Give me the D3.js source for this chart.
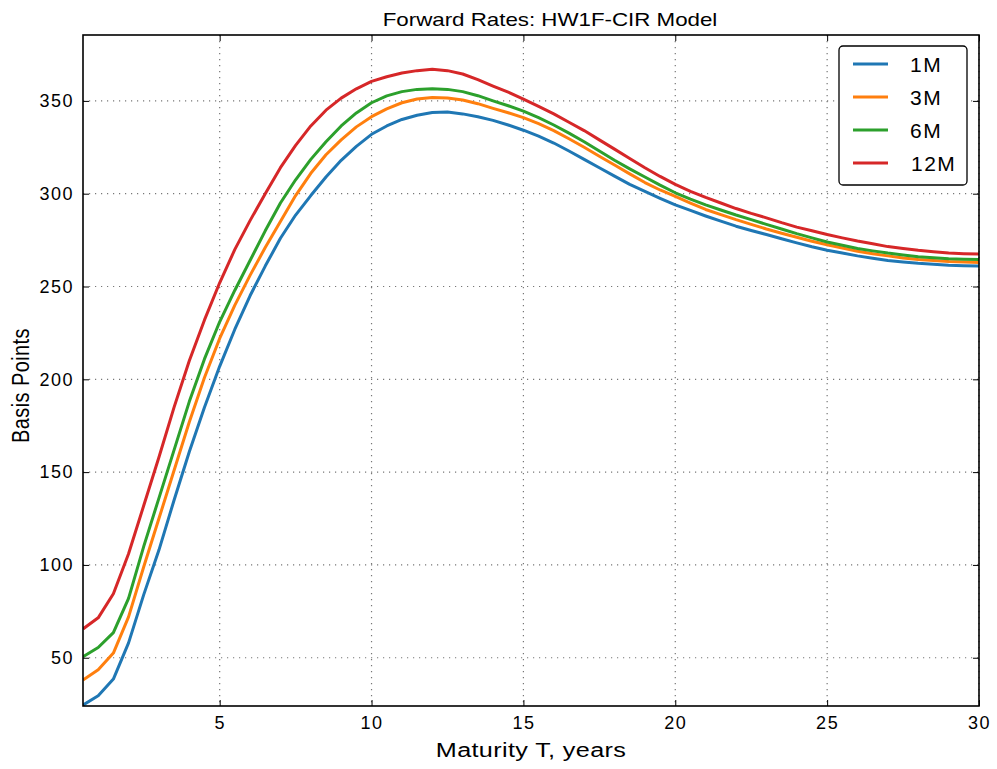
<!DOCTYPE html>
<html><head><meta charset="utf-8">
<script src="https://cdn.jsdelivr.net/npm/d3@7"></script>
<style>
body{margin:0;background:#fff;}
text{font-family:"Liberation Sans",Arial,sans-serif;fill:#000;}
</style></head>
<body><svg id="chart" width="997" height="769"></svg>
<script>
const maturities = [0.5,1,1.5,2,2.5,3,3.5,4,4.5,5,5.5,6,6.5,7,7.5,8,8.5,9,9.5,10,10.5,11,11.5,12,12.5,13,13.5,14,14.5,15,15.5,16,16.5,17,17.5,18,18.5,19,19.5,20,20.5,21,21.5,22,22.5,23,23.5,24,24.5,25,25.5,26,26.5,27,27.5,28,28.5,29,29.5,30];
const series1M  = [24.5,29.5,38.5,58,84,108,135,161,185,207,227,245,261,276,288.5,299,309,318,325.5,332,336.5,340,342.3,343.8,344,343,341.5,339.5,337,334.2,331,327.3,323,318.5,314,309.5,305,301.2,297.5,294,291,288,285.2,282.5,280.2,278,275.7,273.5,271.4,269.5,268,266.5,265.2,264,263.2,262.5,262,261.5,261.2,261];
const series3M  = [38,43.5,52.5,72,99,125,151,177,201,222,240,256,271,285,299,311,321,329,336,341.5,345.7,349,351,351.8,351.6,350.5,348.5,346,343.6,341,337.7,334,329.6,325,320.2,315.5,310.7,306,302,298.5,294.9,291.5,288.7,286,283.5,281,278.7,276.5,274.4,272.5,270.7,269,267.7,266.5,265.4,264.5,264,263.5,263.2,263];
const series6M  = [50.5,55.5,63.5,82,110,136,162,188,211,231,248,264,280,295,307.5,318.5,328,336.5,343.5,349,352.7,355,356.2,356.5,356.2,355,352.8,350,347.4,344.5,341,337,332.6,328,323,318,313.4,309,304.6,300.5,297.1,294,291.2,288.5,286,283.5,281,278.5,276.2,274,272.2,270.5,269.2,268,267,266,265.5,265,264.7,264.5];
const series12M = [65.5,71.5,84.5,106,132,158,185,210,232,252,270,285.5,300,314,326,336.5,345,351.5,356.5,360.5,363,365,366.3,367,366.3,364.5,361.5,358,354.7,351,347,343,338.5,334,329,324,319,314,309.3,305,301.3,298,295,292,289.4,287,284.4,282,280,278,276.2,274.5,273,271.5,270.5,269.5,268.7,268,267.7,267.5];
const seriesNames = ["1M","3M","6M","12M"];
const seriesColors = ["#1f77b4","#ff7f0e","#2ca02c","#d62728"];
const xTicks = [5,10,15,20,25,30];
const yTicks = [50,100,150,200,250,300,350];
const titleText = "Forward Rates: HW1F-CIR Model";
const xLabel = "Maturity T, years";
const yLabel = "Basis Points";

const allSeries = [series1M, series3M, series6M, series12M];
const svg = d3.select("#chart");
const L = 83, R = 979, T = 35, B = 706;
const x = d3.scaleLinear().domain([0.5, 30]).range([L, R]);
const y = d3.scaleLinear().domain([24, 385.5]).range([B, T]);

// grid
const grid = svg.append("g").attr("stroke","#777").attr("stroke-width",1.2).attr("stroke-dasharray","1.2,4.8");
xTicks.forEach(t => grid.append("line").attr("x1",x(t)).attr("x2",x(t)).attr("y1",T).attr("y2",B));
yTicks.forEach(t => grid.append("line").attr("x1",L).attr("x2",R).attr("y1",y(t)).attr("y2",y(t)));

svg.append("clipPath").attr("id","clip").append("rect").attr("x",L).attr("y",T).attr("width",R-L).attr("height",B-T);

const line = d3.line().x((d,i)=>x(maturities[i])).y(d=>y(d));
const lines = svg.append("g").attr("clip-path","url(#clip)");
allSeries.forEach((s,k)=>{
  lines.append("path").datum(s).attr("d",line).attr("fill","none")
    .attr("stroke",seriesColors[k]).attr("stroke-width",3).attr("stroke-linejoin","round");
});

// axes (ticks inward)
const fontSize = "18px";
const xAxis = svg.append("g").attr("transform",`translate(0,${B})`)
  .call(d3.axisBottom(x).tickValues(xTicks).tickSize(-6).tickPadding(10).tickFormat(d3.format("d")));
const yAxis = svg.append("g").attr("transform",`translate(${L},0)`)
  .call(d3.axisLeft(y).tickValues(yTicks).tickSize(-6).tickPadding(9).tickFormat(d3.format("d")));
svg.append("g").attr("transform",`translate(0,${T})`)
  .call(d3.axisTop(x).tickValues(xTicks).tickSize(-6).tickFormat(""));
svg.append("g").attr("transform",`translate(${R},0)`)
  .call(d3.axisRight(y).tickValues(yTicks).tickSize(-6).tickFormat(""));
svg.selectAll(".domain").remove();
svg.selectAll(".tick line").attr("stroke","#000").attr("stroke-width",1);
[xAxis,yAxis].forEach(a=>a.selectAll("text").attr("font-size",fontSize).attr("letter-spacing","1.5px")
  .attr("font-family","Liberation Sans, Arial, sans-serif").attr("fill","#000"));

// frame
svg.append("rect").attr("x",L).attr("y",T).attr("width",R-L).attr("height",B-T)
  .attr("fill","none").attr("stroke","#000").attr("stroke-width",1.6);

// title & labels (horizontally widened like the reference rendering)
svg.append("text").attr("transform","translate(550,26) scale(1.2,1)").attr("text-anchor","middle")
  .attr("font-size","18.6px").text(titleText);
svg.append("text").attr("transform",`translate(${(L+R)/2},757) scale(1.2,1)`).attr("text-anchor","middle")
  .attr("font-size","21px").attr("letter-spacing","0.3px").text(xLabel);
svg.append("text").attr("transform",`translate(29,${(T+B)/2 + 15}) rotate(-90) scale(1,1.15)`).attr("text-anchor","middle")
  .attr("font-size","20px").attr("letter-spacing","0.4px").text(yLabel);

// legend
const lg = svg.append("g");
lg.append("rect").attr("x",839).attr("y",46).attr("width",128).attr("height",139).attr("rx",4)
  .attr("fill","#fff").attr("stroke","#000").attr("stroke-width",1.3);
seriesNames.forEach((n,k)=>{
  const yy = 64 + k*33;
  lg.append("line").attr("x1",853).attr("x2",888).attr("y1",yy).attr("y2",yy)
    .attr("stroke",seriesColors[k]).attr("stroke-width",3);
  lg.append("text").attr("x",n.length>2?911:910).attr("y",yy+7.5).attr("font-size","21px")
    .attr("letter-spacing","1.5px").text(n);
});
</script></body></html>
